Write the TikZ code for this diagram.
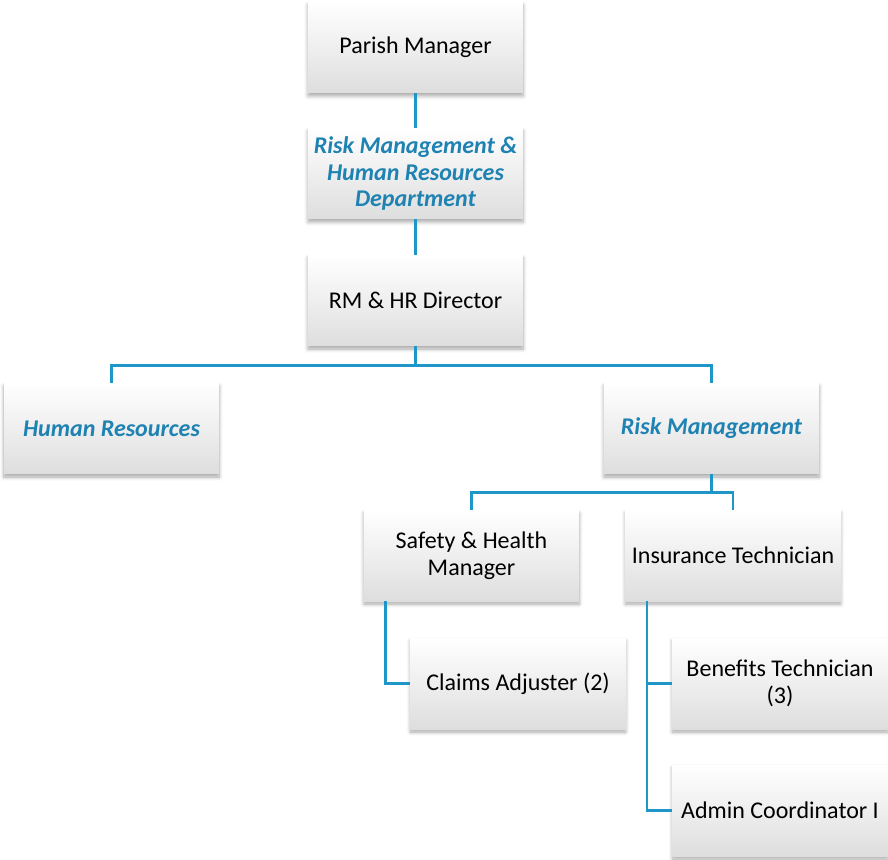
\documentclass[tikz,border=0pt]{standalone}
\usepackage{fontspec}
\setmainfont{Carlito}
\usepackage{tikz}
\usetikzlibrary{shadows.blur}
\usepackage{xcolor}
\definecolor{linkblue}{RGB}{30,150,200}
\definecolor{deptblue}{RGB}{30,130,178}

\begin{document}
\begin{tikzpicture}[x=0.5pt,y=-0.5pt,
  every node/.style={font=\fontsize{12}{13.3}\selectfont},
  box/.style={minimum width=107.5pt,minimum height=45.5pt,align=center,inner sep=2pt,
    top color=white,middle color=white,bottom color=black!13,
    blur shadow={shadow xshift=0pt,shadow yshift=-1.5pt,shadow blur steps=6,shadow opacity=35}},
  dept/.style={box,text=deptblue,font=\fontsize{12}{13.3}\selectfont\bfseries\itshape},
  link/.style={draw=linkblue,line width=1.2pt}]
  \useasboundingbox (0,0) rectangle (888,860);
  % boxes
  \node[box](pm) at(415.5,47.5){Parish Manager};
  \node[dept](dpt) at(415.5,173.5){Risk Management \&\\Human Resources\\Department};
  \node[box](dir) at(415.5,300.5){RM \& HR Director};
  \node[dept](hr) at(111.5,428.5){Human Resources};
  \node[dept](rm) at(711.5,428.5){Risk Management};
  \node[box](saf) at(471.5,555.5){Safety \& Health\\Manager};
  \node[box](ins) at(733,555.5){Insurance Technician};
  \node[box](clm) at(518,683.5){Claims Adjuster (2)};
  \node[box](ben) at(780,683.5){Benefits Technician\\(3)};
  \node[box](adm) at(780,810.5){Admin Coordinator I};
  % connectors
  \draw[link](pm)--(dpt);
  \draw[link](dpt)--(dir);
  \draw[link](dir.south)--++(0,19)-|(hr.north);
  \draw[link](dir.south)--++(0,19)-|(rm.north);
  \draw[link](rm.south)--++(0,18)-|(saf.north);
  \draw[link](rm.south)--++(0,18)-|(ins.north);
  \draw[link]([xshift=11pt]saf.south west)|-(clm.west);
  \draw[link]([xshift=11pt]ins.south west)|-(ben.west);
  \draw[link]([xshift=11pt]ins.south west)|-(adm.west);
\end{tikzpicture}
\end{document}
